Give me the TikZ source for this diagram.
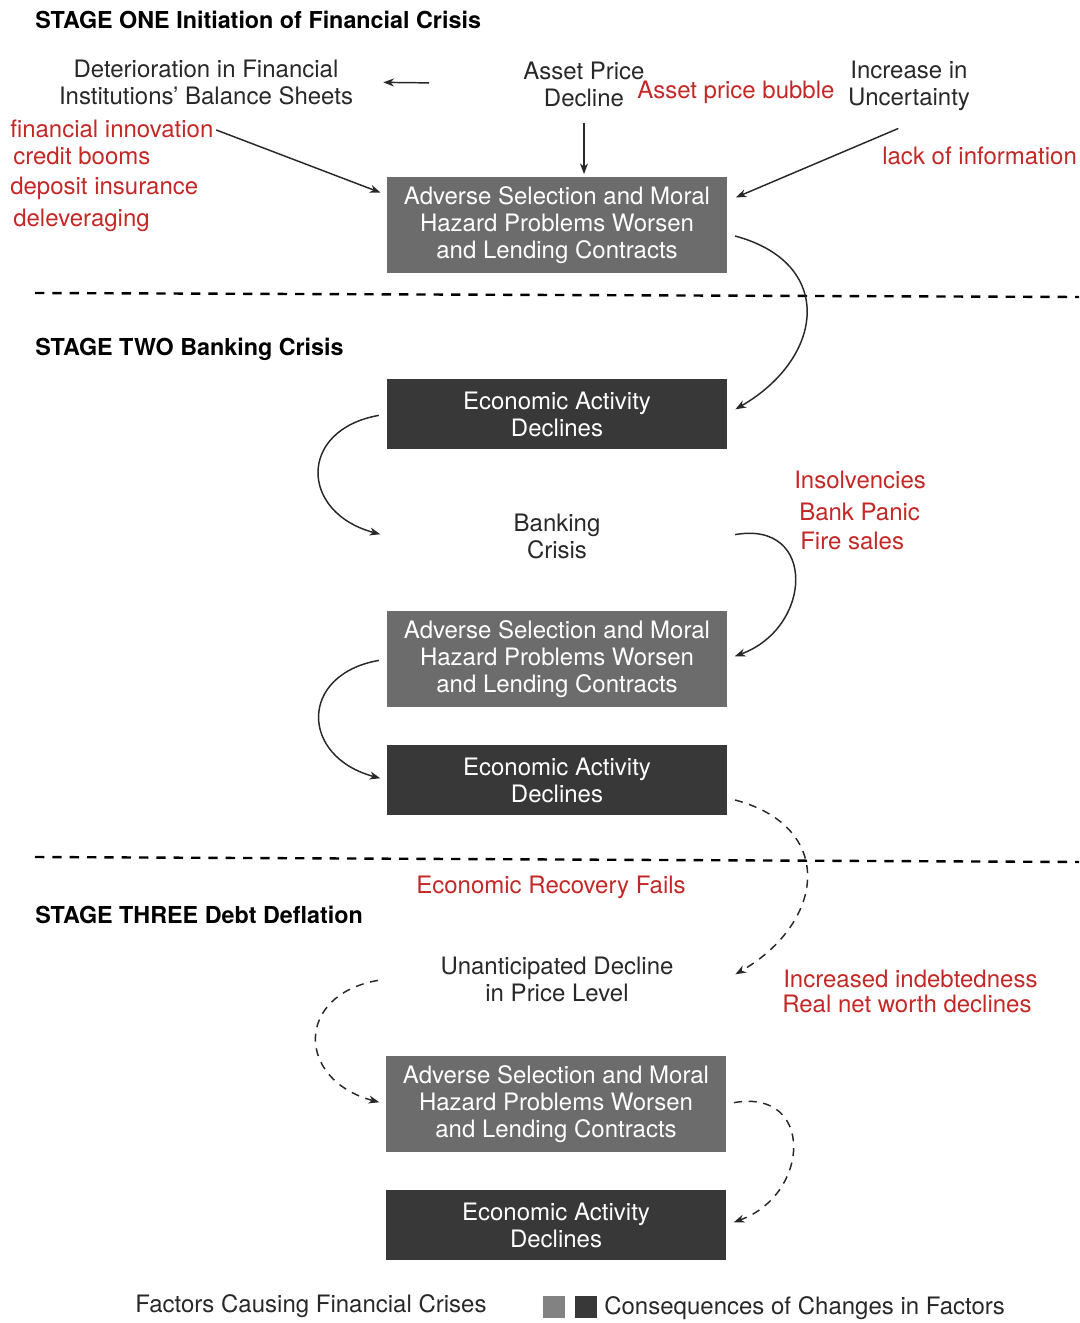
\documentclass[tikz,border=0pt]{standalone}
\usepackage{fontspec}
\setmainfont{TeX Gyre Heros}
\usepackage{tikz}
\usetikzlibrary{arrows.meta}
\definecolor{causered}{RGB}{196,40,38}
\definecolor{boxgray}{RGB}{108,108,108}
\definecolor{boxdark}{RGB}{56,56,56}
\definecolor{inkgray}{RGB}{40,40,40}
\newcommand{\diagfont}{\fontsize{18}{20.25}\selectfont}
\newcommand{\stagefont}{\fontsize{17.5}{20}\selectfont\bfseries}
\tikzstyle{box-worsen}=[fill=boxgray, text=white, align=center, minimum width=255pt, minimum height=72pt, font=\diagfont]
\tikzstyle{box-decline}=[fill=boxdark, text=white, align=center, minimum width=255pt, minimum height=52.5pt, font=\diagfont]
\tikzstyle{factor}=[align=center, text=inkgray, inner sep=0pt, font=\diagfont]
\tikzstyle{cause}=[anchor=west, text=causered, inner sep=0pt, font=\diagfont]
\tikzstyle{stage}=[anchor=west, inner sep=0pt, font=\stagefont]
\tikzstyle{flow}=[->, >={Stealth[length=8pt, width=6pt, inset=2.5pt]}, line width=1.1pt, draw=inkgray]
\tikzstyle{flow-dashed}=[flow, dash pattern=on 6pt off 5pt]
\tikzstyle{divider}=[line width=1.8pt, dash pattern=on 7pt off 6pt]

\begin{document}
\begin{tikzpicture}[x=0.75pt, y=0.75pt]
	\useasboundingbox (0,0) rectangle (1079,-1323);
	% stage titles
	 \node [stage] (s1) at (35,-20) {STAGE ONE Initiation of Financial Crisis};
	 \node [stage] (s2) at (35,-349) {STAGE TWO Banking Crisis};
	 \node [stage] (s3) at (35,-915) {STAGE THREE Debt Deflation};

	% factors
	 \node [factor] (deter) at (206,-82) {Deterioration in Financial\\Institutions' Balance Sheets};
	 \node [factor] (asset) at (584,-84) {Asset Price\\Decline};
	 \node [factor] (uncert) at (909,-86) {Increase in\\Uncertainty};
	 \node [factor] (bank) at (557,-536) {Banking\\Crisis};
	 \node [factor] (unant) at (557,-979) {Unanticipated Decline\\in Price Level};

	% causes
	 \node [cause] (fin) at (10,-129) {financial innovation};
	 \node [cause] (credit) at (13,-156) {credit booms};
	 \node [cause] (deposit) at (10,-188) {deposit insurance};
	 \node [cause] (delev) at (13,-220) {deleveraging};
	 \node [cause] (bubble) at (637,-92) {Asset price bubble};
	 \node [cause] (lack) at (882,-156) {lack of information};
	 \node [cause] (insolv) at (794,-480) {Insolvencies};
	 \node [cause] (panic) at (799,-512) {Bank Panic};
	 \node [cause] (fire) at (800,-541) {Fire sales};
	 \node [cause, anchor=center] (recov) at (551,-887) {Economic Recovery Fails};
	 \node [cause] (indebt) at (783,-979) {Increased indebtedness};
	 \node [cause] (networth) at (782,-1004) {Real net worth declines};

	% consequences
	 \node [box-worsen] (b1) at (557,-225) {Adverse Selection and Moral\\Hazard Problems Worsen\\and Lending Contracts};
	 \node [box-decline] (b2) at (557,-414) {Economic Activity\\Declines};
	 \node [box-worsen] (b3) at (557,-659) {Adverse Selection and Moral\\Hazard Problems Worsen\\and Lending Contracts};
	 \node [box-decline] (b4) at (557,-780) {Economic Activity\\Declines};
	 \node [box-worsen] (b5) at (556,-1104) {Adverse Selection and Moral\\Hazard Problems Worsen\\and Lending Contracts};
	 \node [box-decline] (b6) at (556,-1225) {Economic Activity\\Declines};

	% legend
	 \node [factor] (legf) at (311,-1306) {Factors Causing Financial Crises};
	 \node [fill=boxgray!85, minimum size=16.5pt, inner sep=0pt] (lega) at (554,-1307) {};
	 \node [fill=boxdark, minimum size=16.5pt, inner sep=0pt] (legb) at (586,-1307) {};
	 \node [factor, anchor=west] (legc) at (604,-1308) {Consequences of Changes in Factors};

	% dividers
	 \draw [divider] (35,-293) -- (1079,-297);
	 \draw [divider] (35,-857) -- (1079,-862);

	% arrows
	 \draw [flow, shorten <=70.5pt, shorten >=22.5pt] (asset.west) -- (deter.east);
	 \draw [flow, shorten <=12pt, shorten >=2pt] (asset.south) -- (asset.south |- b1.north);
	 \draw [flow, shorten <=2pt, shorten >=5pt] (fin.east) -- (b1.170);
	 \draw [flow, shorten >=7pt] ([xshift=-8pt, yshift=-13pt]uncert.south) -- (b1.8);

	 \draw [flow, shorten <=6pt, shorten >=7pt] (b1.-3) to[out=-15, in=30, looseness=1.6] (b2.east);
	 \draw [flow, shorten <=6pt, shorten >=5pt] (b2.west) to[out=190, in=165, looseness=1.9] (b2.west |- bank);
	 \draw [flow, shorten <=6pt, shorten >=6pt] (b1.east |- bank) to[out=10, in=20, looseness=1.9] (b3.east);
	 \draw [flow, shorten <=6pt, shorten >=5pt] (b3.west) to[out=190, in=165, looseness=1.9] (b4.west);

	 \draw [flow-dashed, shorten <=6pt, shorten >=7pt] (b4.-6) to[out=-15, in=30, looseness=1.6] (b4.east |- unant);
	 \draw [flow-dashed, shorten <=6pt, shorten >=5pt] (b5.west |- unant) to[out=190, in=165, looseness=1.9] (b5.west);
	 \draw [flow-dashed, shorten <=6pt, shorten >=6pt] (b5.east) to[out=10, in=20, looseness=1.9] (b6.east);
\end{tikzpicture}
\end{document}
